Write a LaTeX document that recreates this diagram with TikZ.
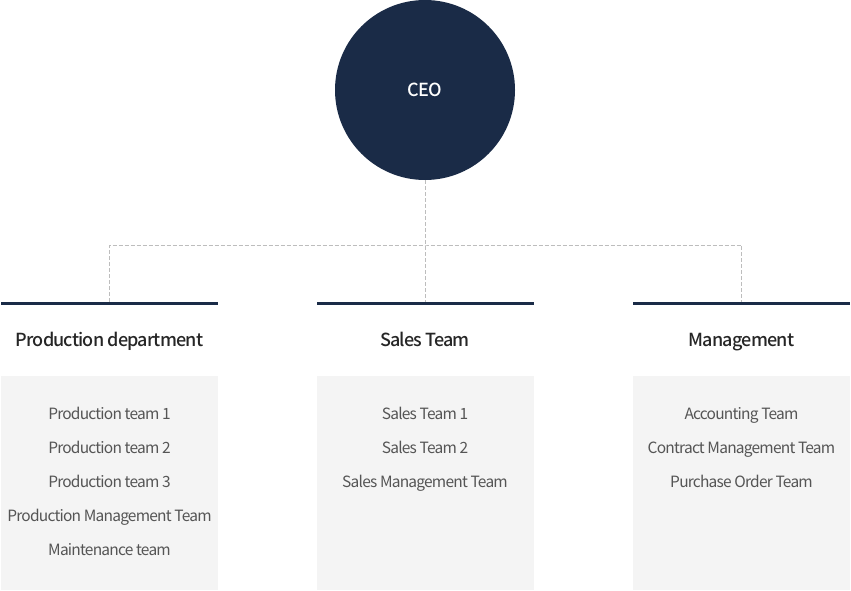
\documentclass[tikz,border=0pt]{standalone}
\usepackage{fontspec}
\setmainfont{Noto Sans CJK KR}
\newfontfamily\medfont{Noto Sans CJK KR Medium}[LetterSpace=-4.5]
\newfontfamily\teamfont{Noto Sans CJK KR}[LetterSpace=-5]
\usepackage[HTML]{xcolor}
\usepackage{tikz}
\usetikzlibrary{positioning}

\definecolor{navy}{HTML}{1A2B47}
\definecolor{boxgray}{HTML}{F4F4F4}
\definecolor{linegray}{HTML}{BDBDBD}
\definecolor{itemgray}{HTML}{555555}

\begin{document}
\begin{tikzpicture}[x=1pt, y=-1pt,
  ceo/.style={circle, fill=navy, inner sep=0pt, minimum size=180pt, text=white, font=\medfont\fontsize{18}{21}\selectfont},
  bar/.style={rectangle, fill=navy, inner sep=0pt, minimum width=217pt, minimum height=3pt},
  head/.style={text=black!85, inner sep=0pt, anchor=base, font=\medfont\fontsize{18}{21}\selectfont},
  panel/.style={rectangle, fill=boxgray, inner sep=0pt, minimum width=217pt, minimum height=214pt},
  item/.style={text=itemgray, inner sep=0pt, anchor=base, font=\teamfont\fontsize{15.5}{18}\selectfont},
  link/.style={draw=linegray, line width=0.8pt, dash pattern=on 4pt off 2pt}]
\useasboundingbox (0,0) rectangle (851,591);

% CEO on top
\node[ceo] (ceo) at (425,90) {CEO};

% three department bars
\node[bar] (barP) at (109.5,303.5) {};
\node[bar] (barS) at (425,303.5) {};
\node[bar] (barM) at (741.5,303.5) {};

% dashed connectors
\coordinate (hub) at (425,245);
\draw[link] (ceo.south) -- (barS.north);
\draw[link] (barP.north) |- (hub) -| (barM.north);

% department titles
\node[head] (headP) at (109.5,346) {Production department};
\node[head] (headS) at (425,346) {Sales Team};
\node[head] (headM) at (741.5,346) {Management};

% grey panels
\node[panel] (panelP) at (109.5,483) {};
\node[panel] (panelS) at (425,483) {};
\node[panel] (panelM) at (741.5,483) {};

% teams
\node[item] (p1) at (109.5,419) {Production team 1};
\node[item] (p2) at (109.5,453) {Production team 2};
\node[item] (p3) at (109.5,487) {Production team 3};
\node[item] (p4) at (109.5,521) {Production Management Team};
\node[item] (p5) at (109.5,555) {Maintenance team};

\node[item] (s1) at (425,419) {Sales Team 1};
\node[item] (s2) at (425,453) {Sales Team 2};
\node[item] (s3) at (425,487) {Sales Management Team};

\node[item] (m1) at (741.5,419) {Accounting Team};
\node[item] (m2) at (741.5,453) {Contract Management Team};
\node[item] (m3) at (741.5,487) {Purchase Order Team};
\end{tikzpicture}
\end{document}
